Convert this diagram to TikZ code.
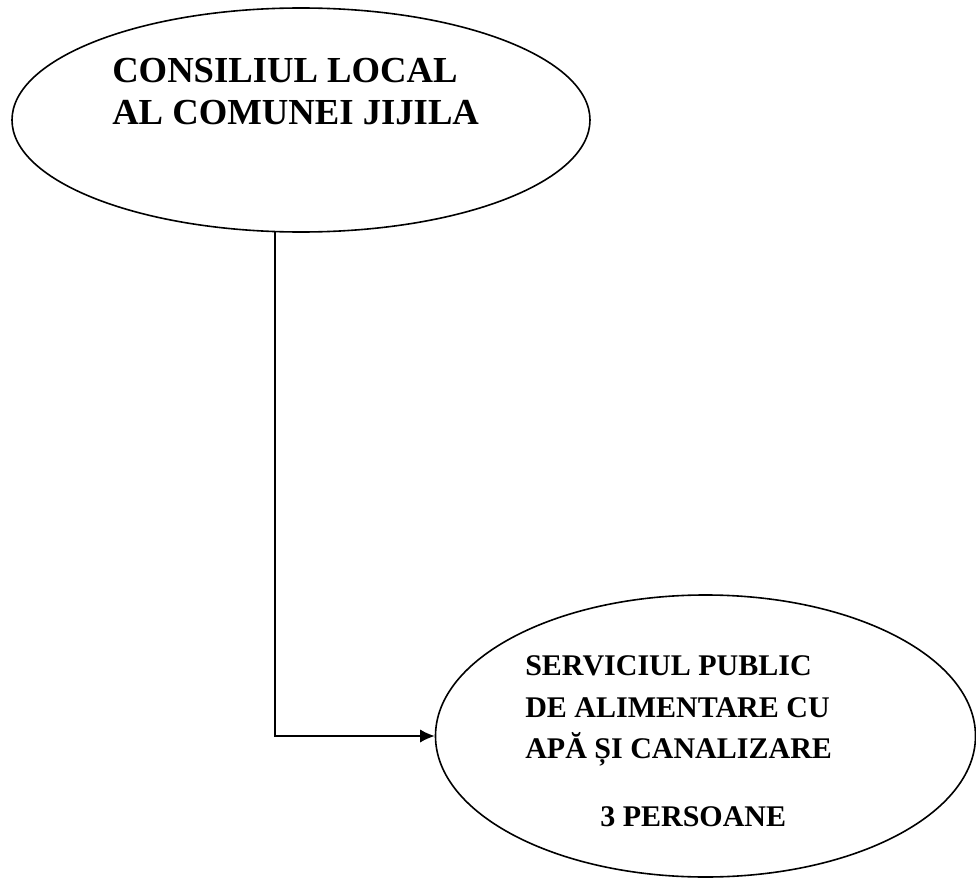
\documentclass[tikz,border=0pt]{standalone}
\usepackage{fontspec}
\setmainfont{Liberation Serif}
\usetikzlibrary{shapes.geometric,arrows.meta}
\tikzset{
  oval/.style={draw, ellipse, line width=1.2pt, inner sep=0pt},
  toptext/.style={anchor=base west, inner sep=0pt, font=\fontsize{27.5}{33}\selectfont\bfseries},
  bottext/.style={anchor=base west, inner sep=0pt, font=\fontsize{22.5}{27}\selectfont\bfseries},
  conn/.style={line width=1.2pt, -{Latex[length=11pt, width=10pt]}}
}
\begin{document}
\begin{tikzpicture}[x=0.75pt, y=-0.75pt]
\useasboundingbox (0,0) rectangle (976,878);
\fill[white] (0,0) rectangle (976,878);
% top ellipse
\node[oval, minimum width=433.5pt, minimum height=168pt] (cl) at (301,120) {};
\node[toptext] (cl1) at (112,82) {CONSILIUL LOCAL};
\node[toptext] (cl2) at (112,124) {AL COMUNEI JIJILA};
% bottom ellipse
\node[oval, minimum width=405pt, minimum height=211.5pt] (sp) at (705.5,736) {};
\node[bottext] (sp1) at (525,675) {SERVICIUL PUBLIC};
\node[bottext] (sp2) at (525,717) {DE ALIMENTARE CU};
\node[bottext] (sp3) at (525,758) {APĂ ȘI CANALIZARE};
\node[bottext] (sp4) at (600,826) {3 PERSOANE};
% connector
\draw[conn] (cl.257.4) |- (sp.west);
\end{tikzpicture}
\end{document}
